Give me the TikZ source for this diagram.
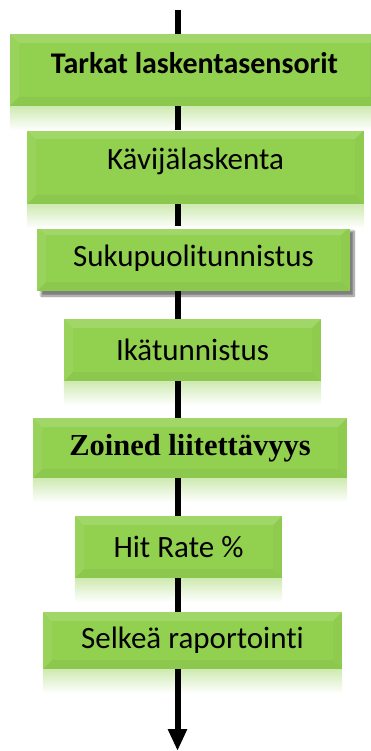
\documentclass[tikz,border=0pt]{standalone}
\usepackage{fontspec}
\setmainfont{Carlito}[Ligatures=NoCommon]
\newfontfamily\serifbold{Liberation Serif}
\usetikzlibrary{arrows.meta,shadows.blur}
\definecolor{boxgreen}{RGB}{146,208,80}

\begin{document}
\begin{tikzpicture}[x=1pt,y=-1pt]
\tikzstyle{every node}=[fill=boxgreen, inner sep=0pt, text=black, font=\fontsize{31}{36}\selectfont];
\tikzstyle{bevel}=[path picture={
    \fill[white,opacity=.14] (path picture bounding box.north west) -- (path picture bounding box.north east)
      -- ([xshift=-9pt,yshift=-9pt]path picture bounding box.north east) -- ([xshift=9pt,yshift=-9pt]path picture bounding box.north west) -- cycle;
    \fill[white,opacity=.07] (path picture bounding box.north west) -- (path picture bounding box.south west)
      -- ([xshift=9pt,yshift=9pt]path picture bounding box.south west) -- ([xshift=9pt,yshift=-9pt]path picture bounding box.north west) -- cycle;
    \fill[black,opacity=.035] (path picture bounding box.south west) -- (path picture bounding box.south east)
      -- ([xshift=-9pt,yshift=9pt]path picture bounding box.south east) -- ([xshift=9pt,yshift=9pt]path picture bounding box.south west) -- cycle;
    \fill[black,opacity=.025] (path picture bounding box.north east) -- (path picture bounding box.south east)
      -- ([xshift=-9pt,yshift=9pt]path picture bounding box.south east) -- ([xshift=-9pt,yshift=-9pt]path picture bounding box.north east) -- cycle;
  }];
\tikzstyle{flow}=[line width=6pt, black];
\useasboundingbox (0,0) rectangle (371,751);

  \node[bevel, minimum width=369pt, minimum height=72pt, text height=20pt, text depth=12pt,
        font=\fontsize{30}{36}\selectfont\bfseries] (a) at (194.5,70) {Tarkat laskentasensorit};
  \node[bevel, minimum width=337pt, minimum height=74pt, text height=24pt, text depth=19pt] (b) at (195.5,167) {Kävijälaskenta};
  \node[bevel, minimum width=313pt, minimum height=65pt,
        blur shadow={shadow xshift=4pt, shadow yshift=-5pt, shadow blur steps=8, shadow opacity=50}] (c) at (193.5,258.5) {Sukupuolitunnistus};
  \node[bevel, minimum width=257pt, minimum height=62pt] (d) at (192.5,350) {Ikätunnistus};
  \node[bevel, minimum width=314pt, minimum height=60pt, font=\fontsize{30.5}{35}\serifbold\bfseries] (e) at (190,448) {Zoined liitettävyys};
  \node[bevel, minimum width=207pt, minimum height=62pt] (f) at (178.5,547) {Hit Rate \%};
  \node[bevel, minimum width=299pt, minimum height=57pt] (g) at (192.5,640.5) {Selkeä raportointi};

  \coordinate (top) at (177.5,10);
  \coordinate (bot) at (177.5,751);

  % reflections
  \foreach \n in {a,b,d,e,f,g}
\shade [top color=boxgreen!45!white, bottom color=white] (\n.south west) rectangle ([yshift=-24pt]\n.south east);

  \draw [flow] (top) -- (a.north -| top);
  \foreach \from/\to in {a/b, b/c, c/d, d/e, e/f, f/g}
\draw [flow] (\from.south -| top) -- (\to.north -| top);
  \draw [flow, -{Triangle[width=18pt,length=22pt]}] (g.south -| top) -- (bot);

\end{tikzpicture}
\end{document}
